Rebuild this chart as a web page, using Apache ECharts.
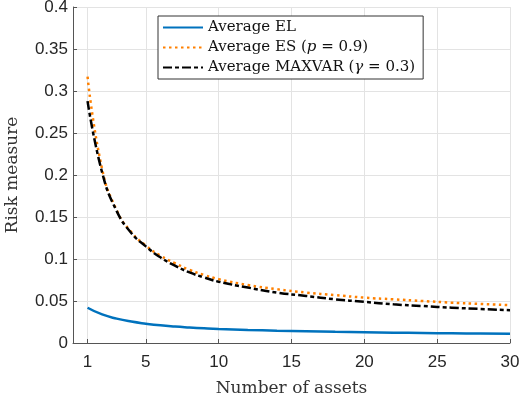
<!DOCTYPE html>
<html><head><meta charset="utf-8">
<script src="https://cdn.jsdelivr.net/npm/echarts@6/dist/echarts.min.js"></script>
<style>html,body{margin:0;padding:0;background:#fff}#c{width:521px;height:400px}</style>
</head><body><div id="c"></div>
<script>
const nAssets = [1,2,3,4,5,6,7,8,9,10,12,14,16,18,20,22,24,26,28,30];
const avgEL     = [0.042,0.034,0.029,0.0255,0.023,0.021,0.0196,0.0185,0.0175,0.0167,0.0156,0.0147,0.014,0.0133,0.0128,0.0123,0.0119,0.0116,0.0113,0.011];
const avgES     = [0.317,0.207,0.158,0.132,0.116,0.104,0.095,0.087,0.081,0.076,0.069,0.064,0.060,0.057,0.054,0.052,0.050,0.048,0.0465,0.045];
const avgMAXVAR = [0.288,0.203,0.157,0.131,0.115,0.102,0.092,0.084,0.078,0.073,0.066,0.060,0.056,0.052,0.049,0.046,0.044,0.042,0.0405,0.039];
const xTicks = [1,5,10,15,20,25,30];
const seriesNames = ['Average EL','Average ES (p = 0.9)','Average MAXVAR (γ = 0.3)'];

const zip = ys => nAssets.map((x,i)=>[x,ys[i]]);
const serif = '"DejaVu Serif", "Liberation Serif", serif';
const sans = '"Liberation Sans", Arial, sans-serif';
const chart = echarts.init(document.getElementById('c'), null, {renderer:'canvas'});
chart.setOption({
  animation:false,
  backgroundColor:'#fff',
  grid:{left:73,right:11,top:7,bottom:57,containLabel:false,outerBoundsMode:'none'},
  legend:{
    orient:'vertical', left:158, top:16,
    padding:[4,8,4,4], itemGap:5, itemWidth:40, itemHeight:16,
    borderColor:'#333', borderWidth:1, backgroundColor:'#fff',
    itemStyle:{opacity:0},
    data:seriesNames,
    formatter: function(name){
      if(name===seriesNames[1]) return 'Average ES ({i|p} = 0.9)';
      if(name===seriesNames[2]) return 'Average MAXVAR ({i|γ} = 0.3)';
      return name;
    },
    textStyle:{fontFamily:serif,fontSize:15,color:'#111',
      rich:{i:{fontFamily:serif,fontSize:15,fontStyle:'italic',color:'#111'}}}
  },
  xAxis:{
    type:'value', min:0, max:30,
    name:'Number of assets', nameLocation:'middle', nameGap:37,
    nameTextStyle:{fontFamily:serif,fontSize:17,color:'#333'},
    axisLine:{show:true,onZero:false,lineStyle:{color:'#555',width:1}},
    axisTick:{show:true,inside:true,length:4,customValues:xTicks,lineStyle:{color:'#555'}},
    axisLabel:{customValues:xTicks,margin:11,fontFamily:sans,fontSize:17,color:'#262626'},
    splitLine:{show:true,lineStyle:{color:'#e3e3e3',width:1}}
  },
  yAxis:{
    type:'value', min:0, max:0.4, interval:0.05,
    name:'Risk measure', nameLocation:'middle', nameGap:52,
    nameTextStyle:{fontFamily:serif,fontSize:17,color:'#333'},
    axisLine:{show:true,lineStyle:{color:'#555',width:1}},
    axisTick:{show:true,inside:true,length:4,lineStyle:{color:'#555'}},
    axisLabel:{margin:5,fontFamily:sans,fontSize:17,color:'#262626'},
    splitLine:{show:true,lineStyle:{color:'#e3e3e3',width:1}}
  },
  series:[
    {name:seriesNames[0],type:'line',data:zip(avgEL),smooth:true,symbol:'none',
     lineStyle:{color:'#0072BD',width:2.5},itemStyle:{color:'#0072BD'}},
    {name:seriesNames[1],type:'line',data:zip(avgES),smooth:true,symbol:'none',
     lineStyle:{color:'#FF8000',width:2.5,type:[2.5,3.5]},itemStyle:{color:'#FF8000'}},
    {name:seriesNames[2],type:'line',data:zip(avgMAXVAR),smooth:true,symbol:'none',
     lineStyle:{color:'#000',width:2.5,type:[9,3,4,3]},itemStyle:{color:'#000'}}
  ]
});
</script></body></html>
